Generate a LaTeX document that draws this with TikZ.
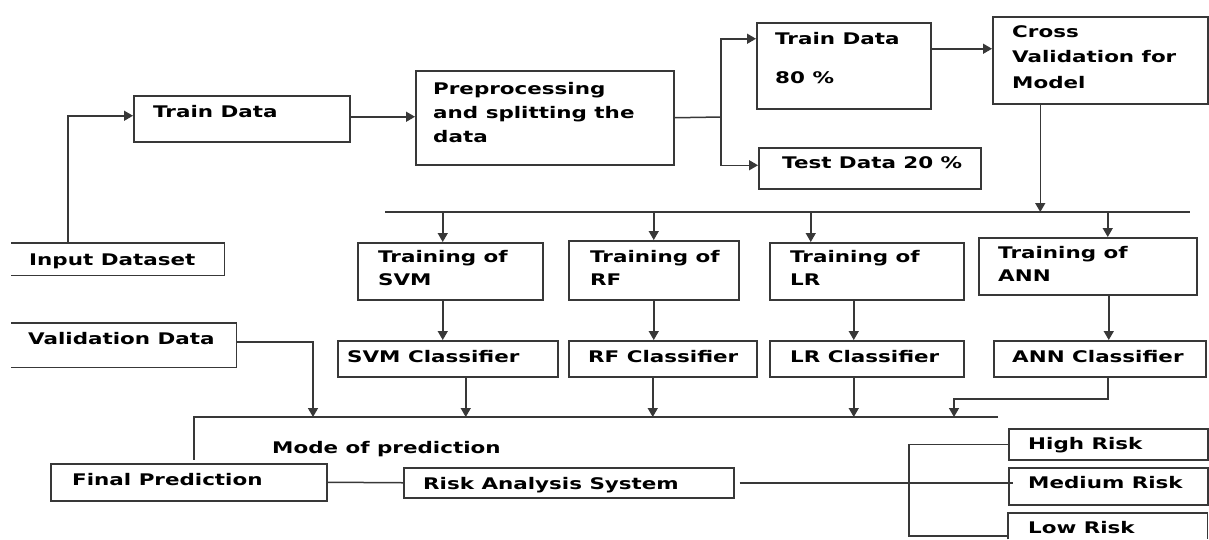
\documentclass[tikz,border=0pt]{standalone}
\usepackage{fontspec}
\newfontfamily\lab{DejaVu Sans}[FakeStretch=1.34]
\usetikzlibrary{arrows.meta}
\tikzset{
  box/.style={draw=black!78, line width=1.5pt, anchor=north west, inner sep=0pt, rectangle},
  openbox/.style={anchor=north west, inner sep=0pt, rectangle},
  txt/.style={anchor=base west, inner sep=0pt, align=left, font=\lab\bfseries\fontsize{16}{24}\selectfont, text=black},
  ln/.style={draw=black!78, line width=1.5pt},
  arr/.style={ln, -{Triangle[length=9pt,width=10pt]}},
}
\begin{document}
\begin{tikzpicture}[x=1pt,y=-1pt]
\useasboundingbox[fill=white] (0,0) rectangle (1209,539);
% boxes
\node[openbox, minimum width=213pt, minimum height=32pt] (inp) at (11,243) {};
\draw[ln] (inp.north west) -- (inp.north east) -- (inp.south east) -- (inp.south west);
\node[box, minimum width=216pt, minimum height=46pt] (trd) at (133,95) {};
\node[box, minimum width=258pt, minimum height=94pt] (pre) at (415,70) {};
\node[box, minimum width=174pt, minimum height=86pt] (tr80) at (756,22) {};
\node[box, minimum width=222pt, minimum height=41pt] (te20) at (758,147) {};
\node[box, minimum width=215pt, minimum height=87pt] (cv) at (992,16) {};
\node[box, minimum width=185pt, minimum height=57pt] (tsvm) at (357,242) {};
\node[box, minimum width=170pt, minimum height=59pt] (trf) at (568,240) {};
\node[box, minimum width=194pt, minimum height=57pt] (tlr) at (769,242) {};
\node[box, minimum width=218pt, minimum height=57pt] (tann) at (978,237) {};
\node[box, minimum width=220pt, minimum height=36pt] (csvm) at (337,340) {};
\node[box, minimum width=188pt, minimum height=36pt] (crf) at (568,340) {};
\node[box, minimum width=194pt, minimum height=36pt] (clr) at (769,340) {};
\node[box, minimum width=212pt, minimum height=36pt] (cann) at (993,340) {};
\node[openbox, minimum width=225pt, minimum height=44pt] (val) at (11,323) {};
\draw[ln] (val.north west) -- (val.north east) -- (val.south east) -- (val.south west);
\node[box, minimum width=276pt, minimum height=37pt] (fin) at (50,463) {};
\node[box, minimum width=330pt, minimum height=30pt] (ras) at (403,467) {};
\node[box, minimum width=199pt, minimum height=31pt] (hi) at (1008,428) {};
\node[box, minimum width=199pt, minimum height=37pt] (med) at (1008,467) {};
\node[openbox, minimum width=199pt, minimum height=26pt] (low) at (1008,513) {};
\draw[ln] (low.south west) -- (low.north west) -- (low.north east) -- (low.south east);
% texts (base anchor = baseline of the last line)
\node[txt] (t1) at (153,117) {Train Data};
\node[txt] (t2) at (29,265) {Input Dataset};
\node[txt] (t3) at (433,142) {Preprocessing\\and splitting the\\data};
\node[txt] (t4) at (775,83) {Train Data\\[15pt]80 \%};
\node[txt] (t5) at (782,168) {Test Data 20 \%};
\node[txt, font=\lab\bfseries\fontsize{16}{25.5}\selectfont] (t6) at (1012,88) {Cross\\Validation for\\Model};
\node[txt, font=\lab\bfseries\fontsize{16}{23}\selectfont] (t7) at (378,285) {Training of\\SVM};
\node[txt, font=\lab\bfseries\fontsize{16}{23}\selectfont] (t8) at (590,285) {Training of\\RF};
\node[txt, font=\lab\bfseries\fontsize{16}{23}\selectfont] (t9) at (790,285) {Training of\\LR};
\node[txt, font=\lab\bfseries\fontsize{16}{23}\selectfont] (t10) at (998,281) {Training of\\ANN};
\node[txt] (t11) at (347,362) {SVM Classifier};
\node[txt] (t12) at (588,362) {RF Classifier};
\node[txt] (t13) at (790,362) {LR Classifier};
\node[txt] (t14) at (1012,362) {ANN Classifier};
\node[txt] (t15) at (28,344) {Validation Data};
\node[txt] (t16) at (272,453) {Mode of prediction};
\node[txt] (t17) at (72,485) {Final Prediction};
\node[txt] (t18) at (423,489) {Risk Analysis System};
\node[txt] (t19) at (1028,449) {High Risk};
\node[txt] (t20) at (1028,488) {Medium Risk};
\node[txt] (t21) at (1028,533) {Low Risk};
% coordinates
\coordinate (sp) at (721,117);
\coordinate (b1L) at (385,212);
\coordinate (b1R) at (1190,212);
\coordinate (b2L) at (194,417);
\coordinate (b2R) at (998,417);
\coordinate (b2D) at (194,460);
\coordinate (vdrop) at (313,417);
\coordinate (annk) at (954,399);
\coordinate (rx) at (909,483);
% connectors
\draw[arr] ([xshift=57pt]inp.north west) |- ([yshift=3pt]trd.west);
\draw[arr] ([yshift=2pt]trd.east) -- ([yshift=2pt]trd.east -| pre.west);
\draw[ln] (pre.east) -- (sp);
\draw[arr] (sp) |- ([yshift=27pt]tr80.west);
\draw[arr] (sp) |- ([yshift=3pt]te20.west);
\draw[arr] ([yshift=17pt]tr80.east) -- ([yshift=17pt]tr80.east -| cv.west);
\draw[arr] ([xshift=-60pt]cv.south) -- ([xshift=-60pt]cv.south |- b1L);
\draw[ln] (b1L) -- (b1R);
\draw[arr] ([xshift=-7.5pt]tsvm.north |- b1L) -- ([xshift=-7.5pt]tsvm.north);
\draw[arr] (trf.north |- b1L) -- (trf.north);
\draw[arr] ([xshift=-56pt]tlr.north |- b1L) -- ([xshift=-56pt]tlr.north);
\draw[arr] ([xshift=20pt]tann.north |- b1L) -- ([xshift=20pt]tann.north);
\draw[arr] ([xshift=-7.5pt]tsvm.south) -- ([xshift=-7.5pt]tsvm.south |- csvm.north);
\draw[arr] (trf.south) -- (trf.south |- crf.north);
\draw[arr] ([xshift=-13pt]tlr.south) -- ([xshift=-13pt]tlr.south |- clr.north);
\draw[arr] ([xshift=21pt]tann.south) -- ([xshift=21pt]tann.south |- cann.north);
\draw[arr] ([xshift=18pt]csvm.south) -- ([xshift=18pt]csvm.south |- b2L);
\draw[arr] ([xshift=-10pt]crf.south) -- ([xshift=-10pt]crf.south |- b2L);
\draw[arr] ([xshift=-13pt]clr.south) -- ([xshift=-13pt]clr.south |- b2L);
\draw[arr] ([xshift=8pt]cann.south) |- (annk) -- (annk |- b2L);
\draw[ln] (b2R) -- (b2L) -- (b2D);
\draw[arr] ([yshift=3pt]val.east) -| (vdrop);
\draw[ln] (fin.east) -- (ras.west);
\draw[ln] ([xshift=5pt]ras.east) -- ([xshift=5pt]ras.east -| med.west);
\draw[ln] (hi.west) -| (rx) |- ([yshift=-10pt]low.west);
\end{tikzpicture}
\end{document}
